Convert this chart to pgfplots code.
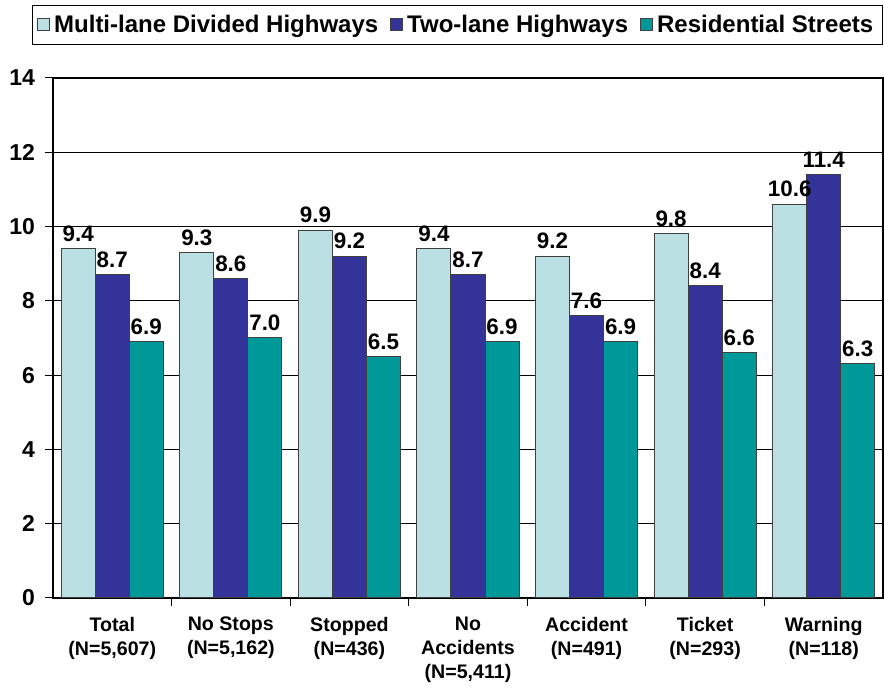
\documentclass[border=0pt]{standalone}
\usepackage{pgfplots}
\pgfplotsset{compat=1.18}
\usepackage{fontspec}
\setmainfont{Liberation Sans}
\definecolor{multi}{HTML}{BBE0E3}
\definecolor{twolane}{HTML}{333399}
\definecolor{resid}{HTML}{009999}
\definecolor{edge}{HTML}{404040}
\begin{document}
\begin{tikzpicture}
\begin{axis}[
    scale only axis,
    width=415pt, height=260pt,
    ybar=0pt,
    bar width=0.287,
    xmin=-0.5, xmax=6.5,
    ymin=0, ymax=14,
    ytick distance=2,
    ymajorgrids,
    grid style={black, line width=0.5pt},
    axis line style={black, line width=0.6pt},
    tick align=outside,
    tick pos=left,
    major tick length=4pt,
    tick style={black, line width=0.5pt},
    xtick={0,...,6},
    xtick style={draw=none},
    extra x ticks={0.5,1.5,2.5,3.5,4.5,5.5},
    extra x tick labels={},
    extra x tick style={xtick style={draw=black}, grid=none},
    xticklabels={{Total\\(N=5,607)},{No Stops\\(N=5,162)},{Stopped\\(N=436)},{No\\Accidents\\(N=5,411)},{Accident\\(N=491)},{Ticket\\(N=293)},{Warning\\(N=118)}},
    x tick label style={align=center, font=\fontsize{9.8}{12}\selectfont\bfseries, yshift=-2pt},
    y tick label style={font=\fontsize{11.5}{13}\selectfont\bfseries, xshift=-1.5pt},
    /pgf/number format/assume math mode=true,
    nodes near coords,
    nodes near coords style={font=\fontsize{11.2}{13}\selectfont\bfseries, /pgf/number format/.cd, fixed, fixed zerofill, precision=1},
    legend columns=-1,
    legend style={at={(0.487,1.14)}, anchor=north, draw=black, line width=0.6pt,
        font=\fontsize{12}{14}\selectfont\bfseries, inner sep=2.5pt,
        /tikz/every even column/.append style={column sep=4pt}},
    legend image code/.code={\draw[#1, line width=0.5pt] (0pt,-3pt) rectangle (6pt,3pt);},
]
\addplot[fill=multi, draw=edge, line width=0.5pt] coordinates {(0,9.4) (1,9.3) (2,9.9) (3,9.4) (4,9.2) (5,9.8) (6,10.6)};
\addplot[fill=twolane, draw=edge, line width=0.5pt] coordinates {(0,8.7) (1,8.6) (2,9.2) (3,8.7) (4,7.6) (5,8.4) (6,11.4)};
\addplot[fill=resid, draw=edge, line width=0.5pt] coordinates {(0,6.9) (1,7.0) (2,6.5) (3,6.9) (4,6.9) (5,6.6) (6,6.3)};
\legend{Multi-lane Divided Highways, Two-lane Highways, Residential Streets}
\coordinate (sw) at (rel axis cs:0,0);
\end{axis}
\path (sw) ++(-26.5pt,-44.5pt) rectangle ++(442pt,343.5pt);
\end{tikzpicture}
\end{document}
